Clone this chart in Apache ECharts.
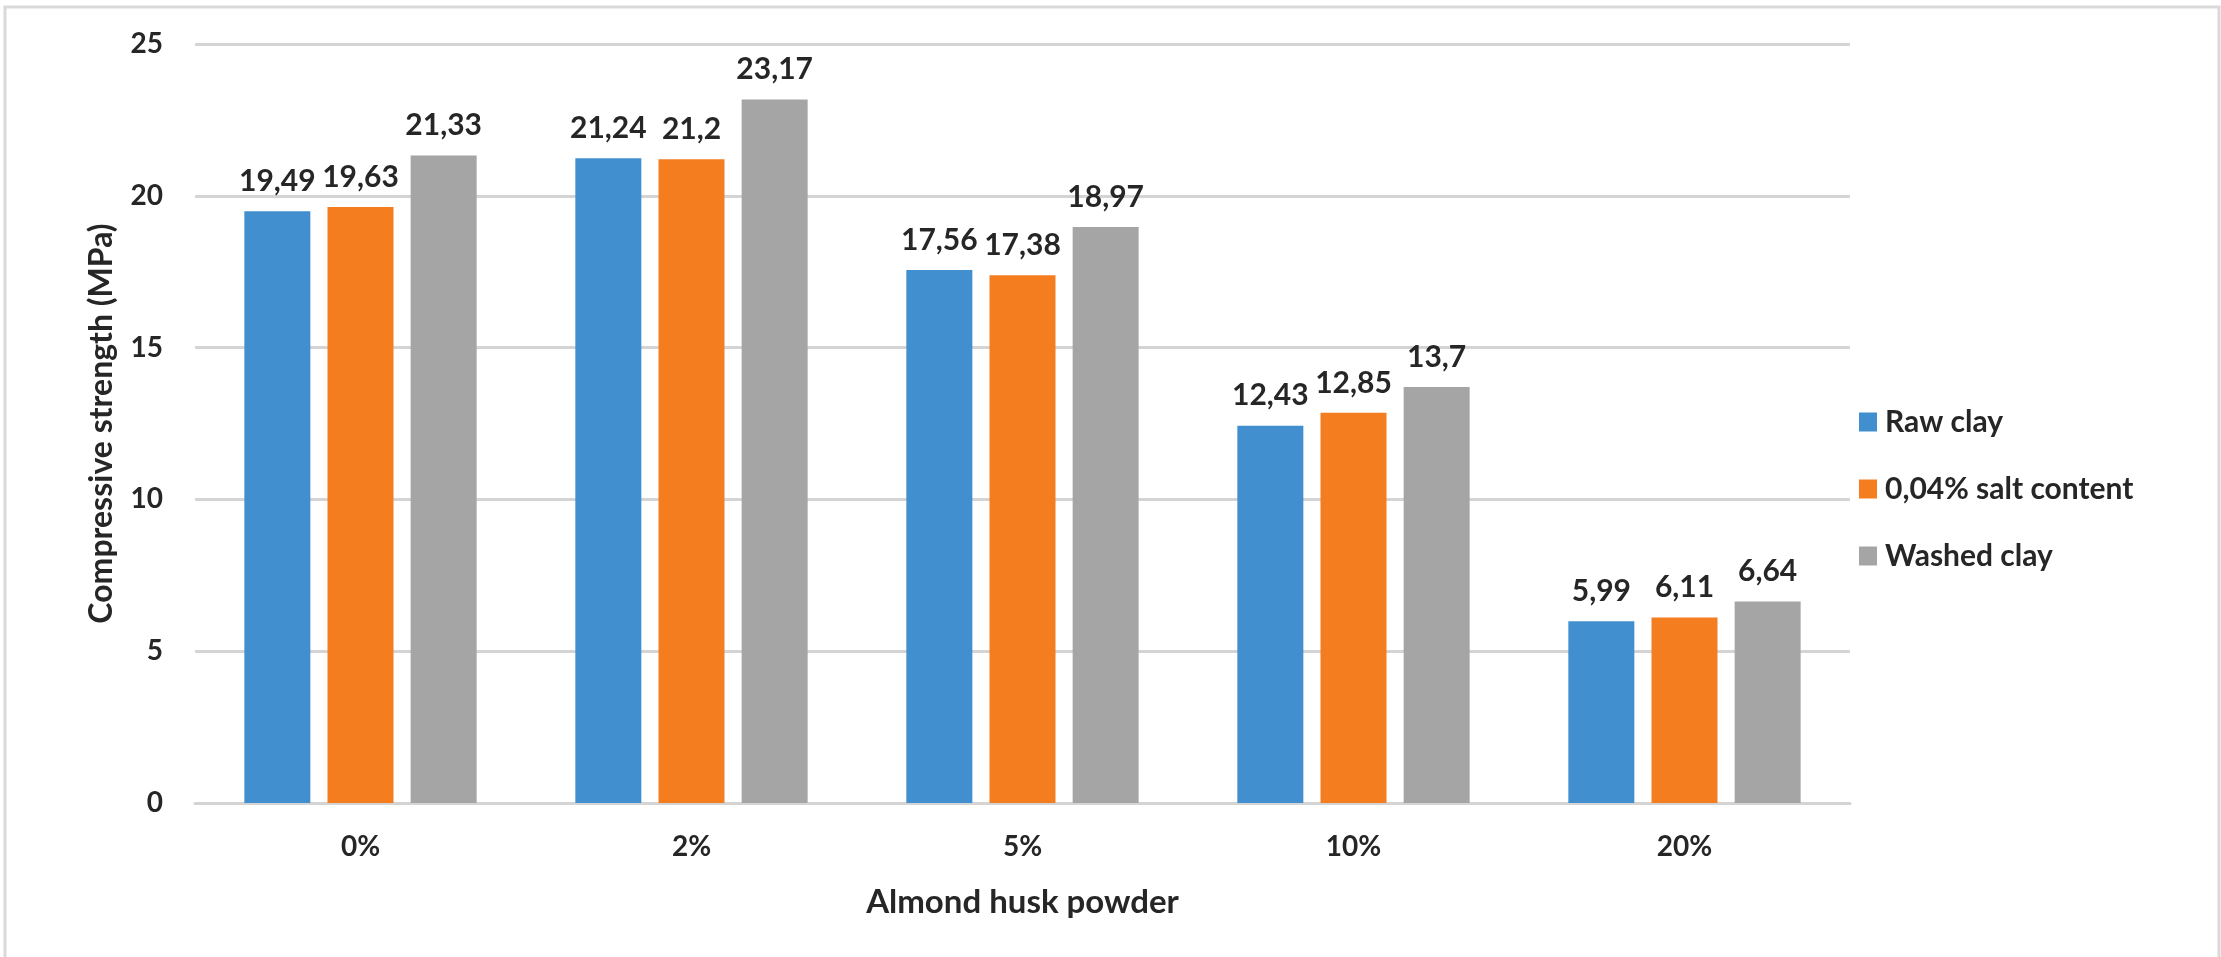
<!DOCTYPE html>
<html>
<head>
<meta charset="utf-8">
<script src="https://cdn.jsdelivr.net/npm/echarts@6/dist/echarts.min.js"></script>
<style>
html,body{margin:0;padding:0;background:#fff;}
#chart{width:2221px;height:957px;}
</style>
</head>
<body>
<div id="chart"></div>
<script>
const categories = ['0%', '2%', '5%', '10%', '20%'];
const seriesNames = ['Raw clay', '0,04% salt content', 'Washed clay'];
const rawClay = [19.49, 21.24, 17.56, 12.43, 5.99];
const saltContent = [19.63, 21.2, 17.38, 12.85, 6.11];
const washedClay = [21.33, 23.17, 18.97, 13.7, 6.64];
const yTicks = [0, 5, 10, 15, 20, 25];
const xTitle = 'Almond husk powder';
const yTitle = 'Compressive strength (MPa)';

const colors = ['#418FCE', '#F47D20', '#A5A5A5'];
const FONT = 'Lato';
const TXT = '#262626';

const chart = echarts.init(document.getElementById('chart'), null, {renderer: 'canvas'});

function mkSeries(name, data, color) {
  return {
    name: name,
    type: 'bar',
    data: data,
    barWidth: 66,
    barGap: '26%',
    itemStyle: {color: color},
    label: {
      show: true,
      position: 'top',
      distance: 15,
      fontFamily: FONT,
      fontWeight: 'bold',
      fontSize: 30,
      color: TXT,
      formatter: p => String(p.value).replace('.', ',')
    }
  };
}

chart.setOption({
  animation: false,
  backgroundColor: '#fff',
  graphic: [{
    type: 'rect',
    shape: {x: 5, y: 7, width: 2214, height: 1000},
    style: {fill: 'none', stroke: '#D9D9D9', lineWidth: 3},
    silent: true
  }],
  grid: {left: 195, right: 371, top: 44, bottom: 154, containLabel: false},
  legend: {
    orient: 'vertical',
    left: 1854,
    top: 402,
    itemWidth: 18,
    itemHeight: 19,
    itemGap: 37,
    icon: 'rect',
    data: seriesNames,
    textStyle: {fontFamily: FONT, fontWeight: 'bold', fontSize: 30, color: TXT, lineHeight: 30, padding: [0, 0, 0, 3]}
  },
  xAxis: {
    type: 'category',
    data: categories,
    name: xTitle,
    nameLocation: 'middle',
    nameGap: 83,
    nameTextStyle: {fontFamily: FONT, fontWeight: 'bold', fontSize: 33, color: TXT},
    axisLine: {show: true, lineStyle: {color: '#D4D4D4', width: 3}},
    axisTick: {show: false},
    axisLabel: {margin: 30, fontFamily: FONT, fontWeight: 'bold', fontSize: 28, color: TXT}
  },
  yAxis: {
    type: 'value',
    min: yTicks[0],
    max: yTicks[yTicks.length - 1],
    interval: yTicks[1] - yTicks[0],
    name: yTitle,
    nameLocation: 'middle',
    nameGap: 77,
    nameRotate: 90,
    nameTextStyle: {fontFamily: FONT, fontWeight: 'bold', fontSize: 32, color: TXT},
    axisLine: {show: false},
    axisTick: {show: false},
    splitLine: {show: true, lineStyle: {color: '#D4D4D4', width: 3}},
    axisLabel: {margin: 32, fontFamily: FONT, fontWeight: 'bold', fontSize: 28, color: TXT}
  },
  series: [
    mkSeries(seriesNames[0], rawClay, colors[0]),
    mkSeries(seriesNames[1], saltContent, colors[1]),
    mkSeries(seriesNames[2], washedClay, colors[2])
  ]
});
</script>
</body>
</html>
